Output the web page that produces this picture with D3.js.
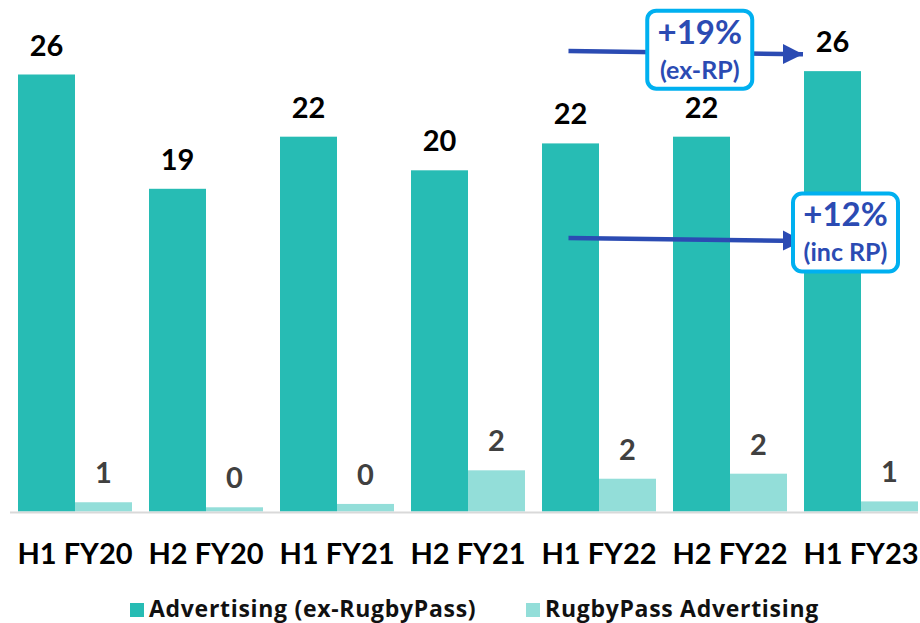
<!DOCTYPE html>
<html>
<head>
<meta charset="utf-8">
<script src="https://cdn.jsdelivr.net/npm/d3@7"></script>
<style>
  html, body { margin: 0; padding: 0; background: #ffffff; }
  svg { display: block; }
  text { font-family: Lato, "Open Sans", sans-serif; }
</style>
</head>
<body>
<svg id="chart" width="920" height="623"></svg>
<script>
// ---- data ----
const categories = ["H1 FY20", "H2 FY20", "H1 FY21", "H2 FY21", "H1 FY22", "H2 FY22", "H1 FY23"];
const seriesNames = ["Advertising (ex-RugbyPass)", "RugbyPass Advertising"];
const advertisingExRP = [26.0, 19.2, 22.3, 20.3, 21.9, 22.3, 26.2];
const rugbyPassAdvertising = [0.55, 0.25, 0.45, 2.45, 1.95, 2.25, 0.6];
const seriesColors = ["#27BCB4", "#93DED9"];
const labelColors = ["#000000", "#404040"];
// annotations: arrow from one category's first bar to another, at a value level
const annotations = [
  { from: "H1 FY22", to: "H1 FY23", yStart: 27.4, yEnd: 27.2, line1: "+19%", line2: "(ex-RP)", box: "middle" },
  { from: "H1 FY22", to: "H1 FY23", yStart: 16.27, yEnd: 16.1, line1: "+12%", line2: "(inc RP)", box: "end" }
];

const svg = d3.select("#chart");

const x0 = d3.scaleBand().domain(categories).range([9.5, 926.5])
  .paddingInner(17 / 131).paddingOuter(8.5 / 131);
const x1 = d3.scaleBand().domain(seriesNames).range([0, x0.bandwidth()]).padding(0);
const y = d3.scaleLinear().domain([0, 26]).range([511.5, 74.5]);

const rows = categories.map((c, i) => ({
  cat: c,
  vals: [
    { s: seriesNames[0], v: advertisingExRP[i], k: 0 },
    { s: seriesNames[1], v: rugbyPassAdvertising[i], k: 1 }
  ]
}));

const g = svg.append("g");
const groups = g.selectAll("g.grp").data(rows).join("g")
  .attr("class", "grp")
  .attr("transform", d => `translate(${x0(d.cat)},0)`);

groups.selectAll("rect").data(d => d.vals).join("rect")
  .attr("x", d => x1(d.s))
  .attr("width", x1.bandwidth())
  .attr("y", d => y(d.v))
  .attr("height", d => y(0) - y(d.v))
  .attr("fill", d => seriesColors[d.k]);

groups.selectAll("text.val").data(d => d.vals).join("text")
  .attr("class", "val")
  .attr("x", d => x1(d.s) + x1.bandwidth() / 2)
  .attr("y", d => y(d.v) - 19)
  .attr("text-anchor", "middle")
  .attr("font-size", 29)
  .attr("font-weight", 700)
  .attr("fill", d => labelColors[d.k])
  .text(d => d3.format(".0f")(d.v));

// baseline
svg.append("line")
  .attr("x1", 10).attr("x2", 918)
  .attr("y1", y(0) + 1).attr("y2", y(0) + 1)
  .attr("stroke", "#d9d9d9").attr("stroke-width", 2);

// category axis labels
const xAxis = d3.axisBottom(x0).tickSize(0).tickPadding(0);
const ax = svg.append("g").attr("transform", `translate(0,${y(0)})`).call(xAxis);
ax.select(".domain").remove();
ax.selectAll("text")
  .attr("dy", null)
  .attr("y", 52)
  .attr("font-size", 29)
  .attr("font-weight", 700)
  .attr("fill", "#000")
  .style("font-family", "Lato, sans-serif");

// legend
const legendItems = [
  { name: seriesNames[0], color: seriesColors[0], x: 130 },
  { name: seriesNames[1], color: seriesColors[1], x: 526 }
];
const lg = svg.append("g");
legendItems.forEach(it => {
  lg.append("rect").attr("x", it.x).attr("y", 603).attr("width", 14).attr("height", 14).attr("fill", it.color);
  lg.append("text").attr("x", it.x + 19).attr("y", 617)
    .attr("font-size", 23).attr("font-weight", 700).attr("fill", "#111")
    .attr("letter-spacing", 0.7)
    .style("font-family", "'Open Sans', sans-serif")
    .text(it.name);
});

// annotations
const arrowColor = "#2B4BB3";
const boxStroke = "#00B0F0";
svg.append("defs").append("marker")
  .attr("id", "ah").attr("viewBox", "0 0 10 10")
  .attr("refX", 10).attr("refY", 5)
  .attr("markerWidth", 4.5).attr("markerHeight", 5)
  .attr("markerUnits", "strokeWidth")
  .attr("orient", "auto")
  .append("path").attr("d", "M0,0 L10,5 L0,10 Z").attr("fill", arrowColor);

annotations.forEach(a => {
  const xs = x0(a.from) + x1.bandwidth() / 2 - 2;
  const xe = x0(a.to) - 1;
  const ys = y(a.yStart), ye = y(a.yEnd);
  svg.append("line")
    .attr("x1", xs).attr("y1", ys).attr("x2", xe).attr("y2", ye)
    .attr("stroke", arrowColor).attr("stroke-width", 4.5)
    .attr("marker-end", "url(#ah)");
  const bw = 105, bh = 78;
  let bx, by;
  if (a.box === "middle") {
    bx = (xs + xe) / 2 - bw / 2 + 14;
    by = (ys + ye) / 2 - bh / 2 - 3;
  } else {
    bx = xe - 10;
    by = (ys + ye) / 2 - 46;
  }
  svg.append("rect")
    .attr("x", bx).attr("y", by).attr("width", bw).attr("height", bh)
    .attr("rx", 9).attr("ry", 9)
    .attr("fill", "#fff").attr("stroke", boxStroke).attr("stroke-width", 4);
  svg.append("text")
    .attr("x", bx + bw / 2).attr("y", by + 33)
    .attr("text-anchor", "middle")
    .attr("font-size", 33).attr("font-weight", 700).attr("fill", arrowColor)
    .text(a.line1);
  svg.append("text")
    .attr("x", bx + bw / 2).attr("y", by + 68)
    .attr("text-anchor", "middle")
    .attr("font-size", 25).attr("font-weight", 700).attr("fill", arrowColor)
    .text(a.line2);
});
</script>
</body>
</html>
